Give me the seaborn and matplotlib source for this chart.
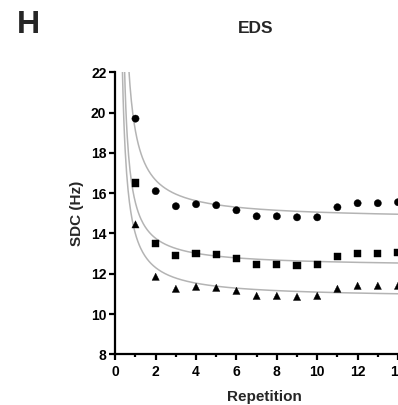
import numpy as np
import pandas as pd
import seaborn as sns
import matplotlib
matplotlib.use("Agg")
import matplotlib.pyplot as plt
from matplotlib.ticker import MultipleLocator

# values
repetition = list(range(1, 15))
sdc_circle = [19.7, 16.1, 15.35, 15.45, 15.4, 15.15, 14.85, 14.85, 14.8, 14.8, 15.3, 15.5, 15.5, 15.55]
sdc_square = [16.5, 13.5, 12.9, 13.0, 12.95, 12.75, 12.45, 12.45, 12.4, 12.45, 12.85, 13.0, 13.0, 13.05]
sdc_triangle = [14.45, 11.85, 11.25, 11.35, 11.3, 11.15, 10.9, 10.9, 10.85, 10.9, 11.25, 11.4, 11.4, 11.4]

# fitted curves y = plateau + span / (x - shift)
series = ["circle", "square", "triangle"]
fit_plateau = [14.7, 12.35, 10.8]
fit_span = [3.5, 2.53, 2.85]
fit_shift = [0.2, 0.2, 0.1]

points = pd.DataFrame({
    "Repetition": repetition * 3,
    "SDC": sdc_circle + sdc_square + sdc_triangle,
    "Series": [s for s in series for _ in repetition],
})

curves = []
for name, a, b, x0 in zip(series, fit_plateau, fit_span, fit_shift):
    xs = np.linspace(x0 + 0.08, 14, 400)
    curves.append(pd.DataFrame({"Repetition": xs, "SDC": a + b / (xs - x0), "Series": name}))
curves = pd.concat(curves)

sns.set_theme(style="ticks")
plt.rcParams["font.family"] = ["Liberation Sans", "DejaVu Sans"]
plt.rcParams["font.weight"] = "bold"

fig = plt.figure(figsize=(3.98, 4.05), dpi=100)
ax = fig.add_axes([115.3 / 398, 50.7 / 405, 282.7 / 398, 282 / 405])

sns.lineplot(data=curves, x="Repetition", y="SDC", units="Series", estimator=None,
             color="#b4b4b4", linewidth=1.1, ax=ax, legend=False)
sns.scatterplot(data=points, x="Repetition", y="SDC", style="Series",
                markers={"circle": "o", "square": "s", "triangle": "^"},
                color="black", s=27, edgecolor="black", linewidth=0.3,
                ax=ax, legend=False, clip_on=False, zorder=3)

ax.set_xlim(0, 14)
ax.set_ylim(8, 22)
ax.xaxis.set_major_locator(MultipleLocator(2))
ax.xaxis.set_minor_locator(MultipleLocator(1))
ax.yaxis.set_major_locator(MultipleLocator(2))

for side in ["top", "right"]:
    ax.spines[side].set_visible(False)
for side in ["left", "bottom"]:
    ax.spines[side].set_linewidth(1.6)
    ax.spines[side].set_color("black")

ax.tick_params(axis="both", which="major", length=4.5, width=1.6, labelsize=10, pad=2, colors="black")
ax.tick_params(axis="x", which="minor", length=2.5, width=1.6, colors="black")
ax.tick_params(axis="x", which="major", pad=3)
for lab in ax.get_xticklabels() + ax.get_yticklabels():
    lab.set_fontweight("bold")

ax.set_xlabel("Repetition", fontsize=11, fontweight="bold")
ax.set_ylabel("SDC (Hz)", fontsize=11, fontweight="bold", labelpad=5)
ax.xaxis.set_label_coords(0.527, -0.125)

fig.text(17 / 398, 1 - 25 / 405, "H", fontsize=23, fontweight="bold", va="center", ha="left")
fig.text(256 / 398, 1 - 28.3 / 405, "EDS", fontsize=12.5, fontweight="bold", va="center", ha="center")

fig.savefig("out.png", dpi=100)
